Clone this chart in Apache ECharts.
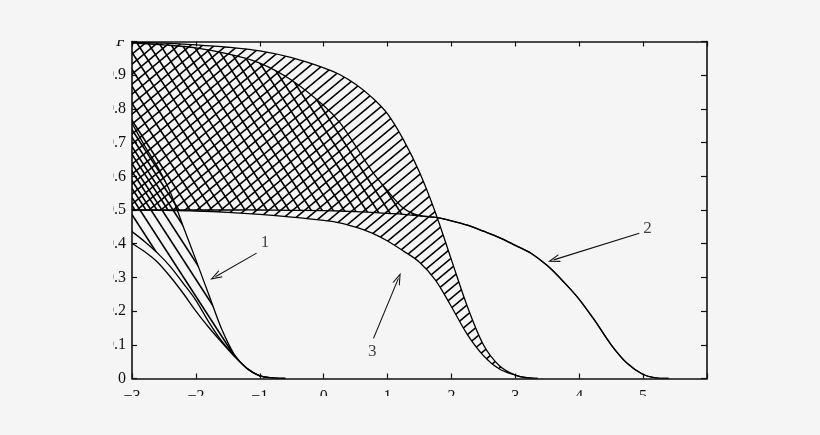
<!DOCTYPE html>
<html><head><meta charset="utf-8">
<script src="https://cdn.jsdelivr.net/npm/echarts@6/dist/echarts.min.js"></script>
<style>
html,body{margin:0;padding:0;background:#f5f5f5;width:820px;height:435px;overflow:hidden}
#c{position:absolute;left:113px;top:40px;width:707px;height:356px}
</style></head><body><div id="c"></div>
<script>
// ---- tick labels ----
const xTickLabels = ['−3','−2','−1','0','1','2','3','4','5',''];
const yTickLabels = ['0','0.1','0.2','0.3','0.4','0.5','0.6','0.7','0.8','0.9','F'];

// ---- pair 1 (curve 1 band) ----
const x1 = [-3,-2.8,-2.6,-2.4,-2.2,-2.0,-1.8,-1.6,-1.4,-1.2,-1.0,-0.8,-0.6];
const curve1Upper = [0.757,0.69,0.628,0.553,0.452,0.352,0.25,0.148,0.072,0.03,0.008,0.002,0];
const curve1Lower = [0.436,0.406,0.372,0.332,0.283,0.232,0.168,0.112,0.068,0.03,0.008,0.002,0];
const curve1Base  = [0.401,0.376,0.345,0.302,0.253,0.2,0.152,0.108,0.066,0.03,0.008,0.002,0];

// ---- pair 2 (curve 2 band) ----
const x2 = [-3,-2.5,-2,-1.5,-1,-0.5,0,0.25,0.5,0.75,1,1.25,1.5,1.75,2,2.25,2.5,2.75,3,3.25,3.5,3.75,4,4.25,4.5,4.75,5,5.2,5.4];
const curve2Upper = [0.996,0.99,0.981,0.963,0.936,0.885,0.81,0.76,0.69,0.617,0.557,0.505,0.483,0.478,0.468,0.455,0.437,0.418,0.395,0.371,0.335,0.288,0.235,0.17,0.1,0.045,0.012,0.002,0];
const curve2Lower = [0.5,0.5,0.5,0.5,0.5,0.499,0.498,0.497,0.495,0.493,0.49,0.487,0.483,0.478,0.468,0.455,0.437,0.418,0.395,0.371,0.335,0.288,0.235,0.17,0.1,0.045,0.012,0.002,0];

// ---- pair 3 (curve 3 band) ----
const x3 = [-3,-2.5,-2,-1.5,-1,-0.5,0,0.25,0.5,0.75,1,1.25,1.5,1.75,2,2.25,2.5,2.75,3,3.15,3.35];
const curve3Upper = [0.998,0.995,0.99,0.983,0.972,0.952,0.922,0.902,0.873,0.835,0.785,0.708,0.612,0.492,0.352,0.213,0.1,0.038,0.01,0.003,0];
const curve3Lower = [0.5,0.499,0.497,0.493,0.487,0.479,0.469,0.462,0.449,0.432,0.408,0.378,0.345,0.292,0.213,0.13,0.068,0.028,0.01,0.003,0];

// ---- annotations ----
const annotText = ['1','2','3'];
const annotPos = [[-0.92,0.402],[5.07,0.446],[0.76,0.08]];
const arrowFrom = [[-1.05,0.372],[4.94,0.431],[0.78,0.119]];
const arrowTo = [[-1.695,0.302],[3.6,0.352],[1.17,0.297]];

function hatch(w, h, dir, off){
  const c = document.createElement('canvas'); c.width = w; c.height = h;
  const g = c.getContext('2d'); g.strokeStyle = '#000'; g.lineWidth = 1.6;
  for (let k=-2;k<=2;k++){
    const x0 = k*w + off;
    g.beginPath();
    if (dir === '/') { g.moveTo(x0-w, 2*h); g.lineTo(x0+2*w, -h); }
    else { g.moveTo(x0-w, -h); g.lineTo(x0+2*w, 2*h); }
    g.stroke();
  }
  return {image: c, repeat: 'repeat'};
}
const patSlash = hatch(12, 10, '/', 0);
const patBack = hatch(11, 17, '\\', 0);
const patBack2 = hatch(11, 17, '\\', 5);

const bands = [
  {xs:x3, up:curve3Upper, lo:curve3Lower, pat:patSlash},
  {xs:x2, up:curve2Upper, lo:curve2Lower, pat:patBack},
  {xs:x1, up:curve1Upper, lo:curve1Lower, pat:patBack2}
];
const singles = [{xs:x1, ys:curve1Base}];

// Catmull-Rom spline through pixel points -> SVG path data
function cr(pts, start){
  const f = v => v.toFixed(2);
  let d = start + f(pts[0][0]) + ' ' + f(pts[0][1]);
  for (let i=0;i<pts.length-1;i++){
    const p0 = pts[i-1] || pts[i], p1 = pts[i], p2 = pts[i+1], p3 = pts[i+2] || pts[i+1];
    const c1 = [p1[0] + (p2[0]-p0[0])/6, p1[1] + (p2[1]-p0[1])/6];
    const c2 = [p2[0] - (p3[0]-p1[0])/6, p2[1] - (p3[1]-p1[1])/6];
    d += ' C' + f(c1[0]) + ' ' + f(c1[1]) + ' ' + f(c2[0]) + ' ' + f(c2[1]) + ' ' + f(p2[0]) + ' ' + f(p2[1]);
  }
  return d;
}
const stroke = {fill:null, stroke:'#000', lineWidth:1.3};

const arrowSym = 'path://M5,0 L10,10 L8.6,10 L5,2.8 L1.4,10 L0,10 Z';
const font = '"Liberation Serif", "Times New Roman", serif';

const chart = echarts.init(document.getElementById('c'), null, {renderer:'canvas'});
const axisCommon = {axisLine:{show:true, onZero:false, lineStyle:{color:'#111', width:1.6}},
  splitLine:{show:false}};
chart.setOption({
  animation:false,
  backgroundColor:'transparent',
  grid:{left:19, right:113, top:1.5, bottom:17.5, containLabel:false, outerBoundsMode:'none'},
  xAxis:[
    Object.assign({type:'value', min:-3, max:6, interval:1, position:'bottom',
     axisTick:{show:true, inside:true, length:5, lineStyle:{color:'#111', width:1.2}},
     axisLabel:{show:true, margin:10, color:'#111', fontFamily:font, fontSize:16,
       formatter:v=>xTickLabels[Math.round(v+3)] || ''}}, axisCommon),
    Object.assign({type:'value', min:-3, max:6, interval:1, position:'top',
     axisTick:{show:true, inside:true, length:5, lineStyle:{color:'#111', width:1.2}},
     axisLabel:{show:false}}, axisCommon)
  ],
  yAxis:[
    Object.assign({type:'value', min:0, max:1, interval:0.1, position:'left',
     axisTick:{show:true, inside:true, length:5, lineStyle:{color:'#111', width:1.2}},
     axisLabel:{show:true, margin:6, color:'#111', fontFamily:font, fontSize:16,
       formatter:v=>{const i=Math.round(v*10); return i===10 ? '{i|'+yTickLabels[i]+'}' : yTickLabels[i];},
       rich:{i:{fontStyle:'italic', fontFamily:font, fontSize:16, color:'#111'}}}}, axisCommon),
    Object.assign({type:'value', min:0, max:1, interval:0.1, position:'right',
     axisTick:{show:true, inside:true, length:6, lineStyle:{color:'#111', width:1.2}},
     axisLabel:{show:false}}, axisCommon)
  ],
  series:[
    {name:'bands', type:'custom', clip:true, z:3,
     data: bands.map((b,i)=>[i]),
     renderItem:(params, api)=>{
       const b = bands[params.dataIndex];
       const up = b.xs.map((x,i)=>api.coord([x, b.up[i]]));
       const lo = b.xs.map((x,i)=>api.coord([x, b.lo[i]]));
       const fillD = cr(up,'M') + ' ' + cr(lo.slice().reverse(),'L') + ' Z';
       return {type:'group', children:[
         {type:'path', shape:{pathData:fillD}, style:{fill:b.pat, stroke:null}},
         {type:'path', shape:{pathData:cr(up,'M')}, style:stroke},
         {type:'path', shape:{pathData:cr(lo,'M')}, style:stroke}
       ]};
     }},
    {name:'curve', type:'custom', clip:true, z:3,
     data: singles.map((s,i)=>[i]),
     renderItem:(params, api)=>{
       const s = singles[params.dataIndex];
       const pts = s.xs.map((x,i)=>api.coord([x, s.ys[i]]));
       return {type:'path', shape:{pathData:cr(pts,'M')}, style:stroke};
     }},
    {name:'annot', type:'scatter', symbolSize:1, itemStyle:{color:'rgba(0,0,0,0)'}, z:5,
     data: annotPos.map((p,i)=>({name:annotText[i], value:p})),
     label:{show:true, position:'inside', formatter:p=>p.name, color:'#111', fontFamily:font, fontSize:17},
     markLine:{silent:true, animation:false, symbol:['none', arrowSym], symbolSize:[8,12],
       lineStyle:{color:'#111', width:1.1, type:'solid'}, label:{show:false},
       emphasis:{disabled:true},
       data: arrowFrom.map((f,i)=>[{coord:f}, {coord:arrowTo[i]}])}}
  ]
});
</script></body></html>
